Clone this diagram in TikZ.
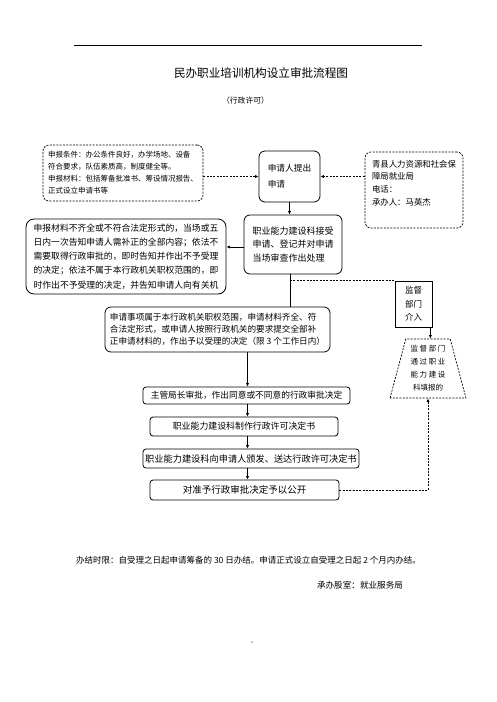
\documentclass[tikz,border=0pt]{standalone}
\usepackage{fontspec}
\setmainfont{Noto Sans CJK SC}
\usetikzlibrary{arrows.meta,shapes.geometric}
\newcommand\gapx{\hspace{1.6pt}}
\newcommand\fs[2]{\fontsize{#1}{#2}\selectfont}
\begin{document}
\begin{tikzpicture}[x=1pt,y=-1pt,
  every node/.style={inner sep=0pt, align=left},
  sbox/.style={draw, rounded corners=6pt, line width=0.8pt},
  dbox/.style={draw, dash pattern=on 2pt off 1.3pt, rounded corners=6pt, line width=0.7pt},
  fbox/.style={draw, rounded corners=3pt, line width=0.8pt},
  arr/.style={-{Latex[length=3.5pt,width=3.2pt]}, line width=0.7pt},
  darr/.style={arr, dash pattern=on 2pt off 1.3pt},
  dln/.style={line width=0.7pt, dash pattern=on 2pt off 1.3pt},
  ln/.style={line width=0.7pt}]
\useasboundingbox (0,0) rectangle (496,702);
\draw[line width=0.9pt] (74,45) -- (422,45);
\node[font=\fs{11.6}{14}] (title) at (261,73) {民办职业培训机构设立审批流程图};
\node[font=\fs{7.8}{10}] (sub) at (245.5,101) {（行政许可）};

\node[dbox, minimum width=160pt, minimum height=56pt, font=\fs{7.5}{12}] (A) at (123,173)
  {申报条件：办公条件良好，办学场地、设备\\符合要求，队伍素质高，制度健全等。\\申报材料：包括筹备批准书、筹设情况报告、\\正式设立申请书等};
\node[sbox, minimum width=61pt, minimum height=51pt, font=\fs{8.7}{16}] (B) at (289.5,176.5)
  {申请人提出\\申请};
\node[dbox, minimum width=98pt, minimum height=76pt, font=\fs{8.4}{12.7}] (C) at (414,190)
  {青县人力资源和社会保\\障局就业局\\电话：\\承办人：马英杰\\[0pt]\rule{0pt}{13pt}};
\node[sbox, minimum width=98pt, minimum height=59pt, font=\fs{9}{13.5}] (D) at (293,244.5)
  {职业能力建设科接受\\申请、登记并对申请\\当场审查作出处理};
\node[sbox, rounded corners=8pt, minimum width=200pt, minimum height=75pt, font=\fs{8.8}{14.2}] (E) at (126,256.5)
  {申报材料不齐全或不符合法定形式的，当场或五\\日内一次告知申请人需补正的全部内容；依法不\\需要取得行政审批的，即时告知并作出不予受理\\的决定；依法不属于本行政机关职权范围的，即\\时作出不予受理的决定，并告知申请人向有关机};
\node[sbox, minimum width=225pt, minimum height=45pt, font=\fs{8.6}{12}] (F) at (217.5,329.5)
  {申请事项属于本行政机关职权范围，申请材料齐全、符\\合法定形式，或申请人按照行政机关的要求提交全部补\\正申请材料的，作出予以受理的决定（限 3 个工作日内）};
\node[draw, line width=0.8pt, minimum width=37pt, minimum height=46pt, align=center, font=\fs{8.5}{13.5}] (G) at (413.5,304)
  {监督\\部门\\介入};
\node[trapezium, draw, dash pattern=on 2pt off 1.3pt, line width=0.7pt,
  trapezium left angle=75, trapezium right angle=75, trapezium stretches=true,
  minimum width=76pt, minimum height=59pt, align=center, font=\fs{7.5}{13}] (T) at (428,368.5)
  {监\gapx 督\gapx 部\gapx 门\\通\gapx 过\gapx 职\gapx 业\\能\gapx 力\gapx 建\gapx 设\\科填报的};
\node[fbox, minimum width=207pt, minimum height=17pt, font=\fs{8.7}{10}] (H) at (246.5,395.5)
  {主管局长审批，作出同意或不同意的行政审批决定};
\node[fbox, minimum width=188pt, minimum height=19pt, font=\fs{8.9}{10}] (I) at (244,426.5)
  {职业能力建设科制作行政许可决定书};
\node[fbox, minimum width=216pt, minimum height=19pt, font=\fs{9.2}{10}] (J) at (251,458.5)
  {职业能力建设科向申请人颁发、送达行政许可决定书};
\node[fbox, minimum width=189pt, minimum height=20pt, font=\fs{9.5}{10}] (K) at (244.5,490)
  {对准予行政审批决定予以公开};

\node[font=\fs{8.5}{10}] (lim) at (248.5,560) {办结时限：自受理之日起申请筹备的 30 日办结。申请正式设立自受理之日起 2 个月内办结。};
\node[font=\fs{8.6}{10}] (office) at (360,585) {承办股室：就业服务局};
\fill (252,642) circle (0.7pt);

% connectors
\draw[darr] (A.east |- B.west) -- (B.west);
\draw[darr] (C.west |- B.east) -- (B.east);
\draw[arr] (B.south) -- (B.south |- D.north);
\draw[arr] ([yshift=-2.5pt]D.west) coordinate (de) -- (de -| E.east);
\draw[ln] ([xshift=-3pt]D.south) coordinate (df) -- (df |- F.north);
\draw[dln] (df |- G.north west) -- (G.north west);
\draw[arr] ([xshift=-2pt]G.south east) coordinate (gt) -- (gt |- T.north);
\draw[arr] ([xshift=30pt]F.south) coordinate (fh) -- (fh |- H.north);
\draw[arr] (fh |- H.south) -- (fh |- I.north);
\draw[arr] (fh |- I.south) -- (fh |- J.north);
\draw[arr] (fh |- J.south) -- (fh |- K.north);
\draw[darr] (K.east) -| (T.south);
\end{tikzpicture}
\end{document}
